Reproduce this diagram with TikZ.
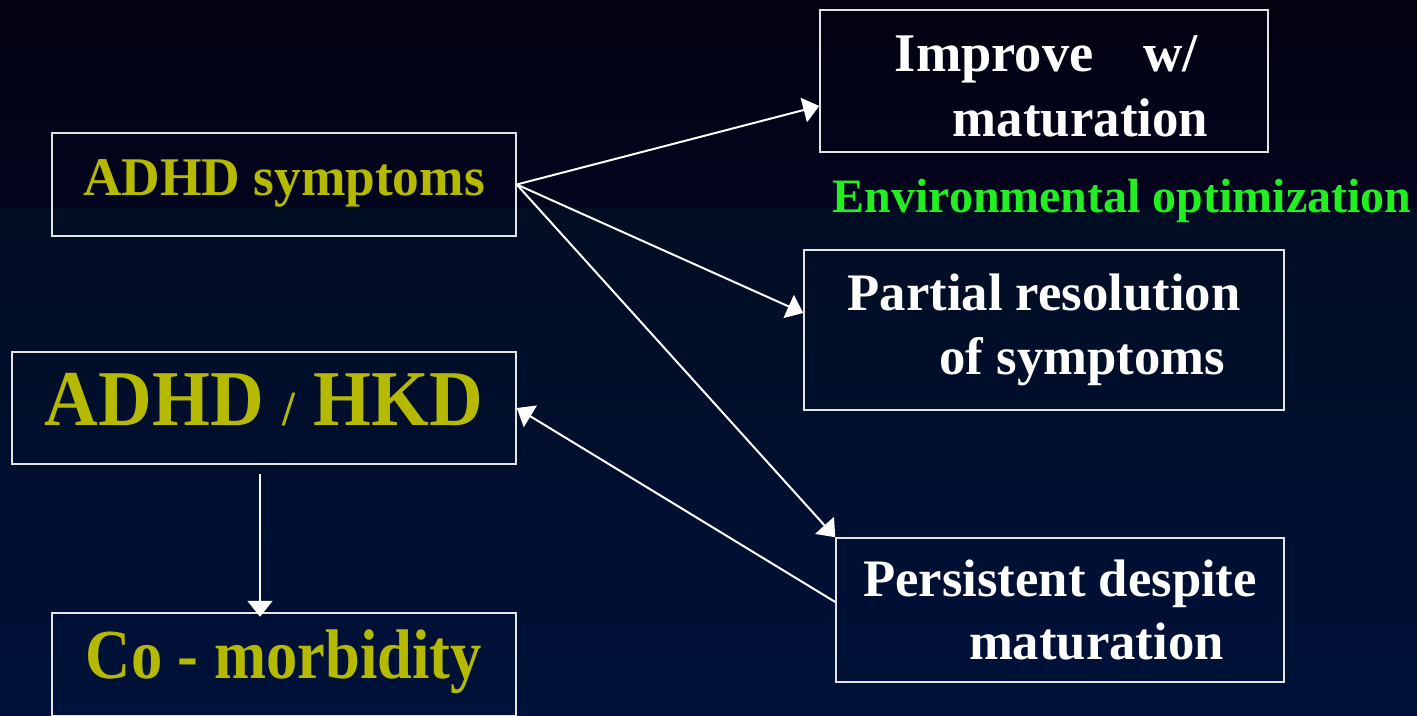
\documentclass[tikz,border=0pt]{standalone}
\usepackage{graphicx}
\usepackage{fontspec}
\setmainfont{Liberation Serif}
\usetikzlibrary{arrows.meta, positioning, calc}
\definecolor{bgtop}{RGB}{2,2,16}
\definecolor{bgmid}{RGB}{3,4,30}
\definecolor{bgband}{RGB}{1,13,34}
\definecolor{bgbottom}{RGB}{0,17,58}
\definecolor{symptomyellow}{RGB}{181,185,0}
\definecolor{envgreen}{RGB}{34,238,34}
\definecolor{boxline}{RGB}{228,228,228}

\begin{document}
\begin{tikzpicture}[
    box/.style={rectangle, draw=boxline, line width=0.03cm, inner sep=0pt, align=left},
    arrow/.style={-{Triangle[length=0.32cm, width=0.5cm]}, white, line width=0.04cm},
]

% background
\shade[top color=bgtop, bottom color=bgmid] (0,0) rectangle (28.34,-4.14);
\shade[top color=bgband, bottom color=bgbottom] (0,-4.14) rectangle (28.34,-14.32);
\useasboundingbox (0,0) rectangle (28.34,-14.32);

% left column
\node[box, minimum width=9.28cm, minimum height=2.06cm, text=symptomyellow,
      text height=0.7cm, text depth=0.28cm,
      font=\bfseries\fontsize{31}{37}\selectfont] (symptoms) at (5.68,-3.69)
      {\scalebox{0.98}[1]{ADHD symptoms}};
\node[box, minimum width=10.08cm, minimum height=2.24cm, text=symptomyellow,
      text height=1.1cm, text depth=0.42cm,
      font=\bfseries\fontsize{45}{54}\selectfont] (hkd) at (5.28,-8.16)
      {\scalebox{0.94}[1]{ADHD {\fontsize{28}{34}\selectfont/} HKD}};
\node[box, minimum width=9.28cm, minimum height=2.06cm, text=symptomyellow,
      text height=1.0cm, text depth=0.46cm,
      font=\bfseries\fontsize{40}{48}\selectfont] (comorb) at (5.68,-13.29)
      {\scalebox{0.89}[1]{Co - morbidity}};

% right column
\node[box, minimum width=8.96cm, minimum height=2.84cm, text=white,
      font=\bfseries\fontsize{31}{37}\selectfont] (improve) at (20.88,-1.62)
      {\rule{0pt}{0.92cm}\hspace*{0.3cm}Improve\hspace{1.0cm}w/\\\hspace*{1.46cm}\scalebox{0.97}[1]{maturation}};
\node[text=envgreen, anchor=base, inner sep=0pt,
      font=\bfseries\fontsize{27.3}{33}\selectfont] (envopt) at (22.44,-4.24) {Environmental optimization};
\node[box, minimum width=9.6cm, minimum height=3.2cm, text=white,
      font=\bfseries\fontsize{30}{36}\selectfont] (partial) at (20.88,-6.6)
      {Partial resolution\\\hspace{1.84cm}of symptoms};
\node[box, minimum width=8.96cm, minimum height=2.88cm, text=white,
      font=\bfseries\fontsize{30}{36}\selectfont] (persistent) at (21.2,-12.2)
      {Persistent despite\\\hspace{2.12cm}maturation};

% connectors
\coordinate (drop) at (5.2,-9.48);
\draw[arrow] (symptoms.east) -- ([yshift=-0.5cm]improve.west);
\draw[arrow] (symptoms.east) -- ([yshift=0.34cm]partial.west);
\draw[arrow] (symptoms.east) -- (persistent.north west);
\draw[arrow] ([yshift=0.16cm]persistent.west) -- (hkd.east);
\draw[arrow, shorten >=-0.09cm] (drop) -- (drop |- comorb.north);

\end{tikzpicture}
\end{document}
